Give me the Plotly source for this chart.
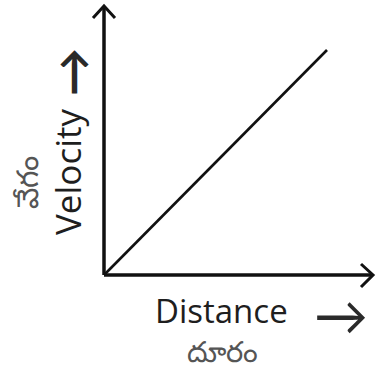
import plotly.graph_objects as go

# data (arbitrary units, straight line through origin)
distance = [0, 10]
velocity = [0, 10]

x_label = "Distance"
x_label_te = "దూరం"
y_label = "Velocity"
y_label_te = "వేగం"

W, H = 379, 374
ox, oy = 104, 275          # origin in pixels
sx, sy = 22.3, 22.5        # pixels per unit

x_range = [-ox / sx, (W - ox) / sx]
y_range = [-(H - oy) / sy, oy / sy]


def px(x, y):
    # pixel -> data coords
    return (x - ox) / sx, (oy - y) / sy


ink = "#111111"

fig = go.Figure()
fig.add_trace(go.Scatter(x=distance, y=velocity, mode="lines",
                         line=dict(color=ink, width=2.6),
                         hoverinfo="skip", showlegend=False))

# axis lines with open arrow heads
top = px(104, 6)
right = px(373, 275)
shapes = []
for a, b in [((0, 0), top), ((0, 0), right)]:
    shapes.append(dict(type="line", x0=a[0], y0=a[1], x1=b[0], y1=b[1],
                       line=dict(color=ink, width=3.5)))
for tip, arm1, arm2 in [((104, 6), (93, 18), (115, 18)),
                        ((373, 275), (361, 264), (361, 287))]:
    p0, p1, p2 = px(*arm1), px(*tip), px(*arm2)
    shapes.append(dict(type="path",
                       path=f"M {p0[0]},{p0[1]} L {p1[0]},{p1[1]} L {p2[0]},{p2[1]}",
                       line=dict(color=ink, width=3)))

font = "Open Sans, Noto Sans, DejaVu Sans, sans-serif"
annotations = [
    dict(x=221 / W, y=1 - 310 / H, text=x_label, font=dict(size=33, color="#1e1e1e")),
    dict(x=341 / W, y=1 - 314 / H, text="→",
         font=dict(size=54, color="#2a2a2a", family="Lato")),
    dict(x=222 / W, y=1 - 350 / H, text=x_label_te, font=dict(size=29, color="#555555")),
    dict(x=67 / W, y=1 - 172 / H, text=y_label, textangle=-90,
         font=dict(size=35, color="#1e1e1e")),
    dict(x=71 / W, y=1 - 72 / H, text="<b>→</b>", textangle=-90,
         font=dict(size=48, color="#2a2a2a", family="Lato")),
    dict(x=27 / W, y=1 - 183 / H, text=y_label_te, textangle=-90,
         font=dict(size=30, color="#555555")),
]
for a in annotations:
    a.update(xref="paper", yref="paper", showarrow=False,
             xanchor="center", yanchor="middle")
    a["font"].setdefault("family", font)

fig.update_layout(
    width=W, height=H,
    margin=dict(l=0, r=0, t=0, b=0),
    paper_bgcolor="white", plot_bgcolor="white",
    xaxis=dict(range=x_range, visible=False, fixedrange=True),
    yaxis=dict(range=y_range, visible=False, fixedrange=True),
    shapes=shapes,
    annotations=annotations,
)

fig.write_html("out.html", config=dict(displayModeBar=False),
               post_script="document.body.style.margin='0';")
